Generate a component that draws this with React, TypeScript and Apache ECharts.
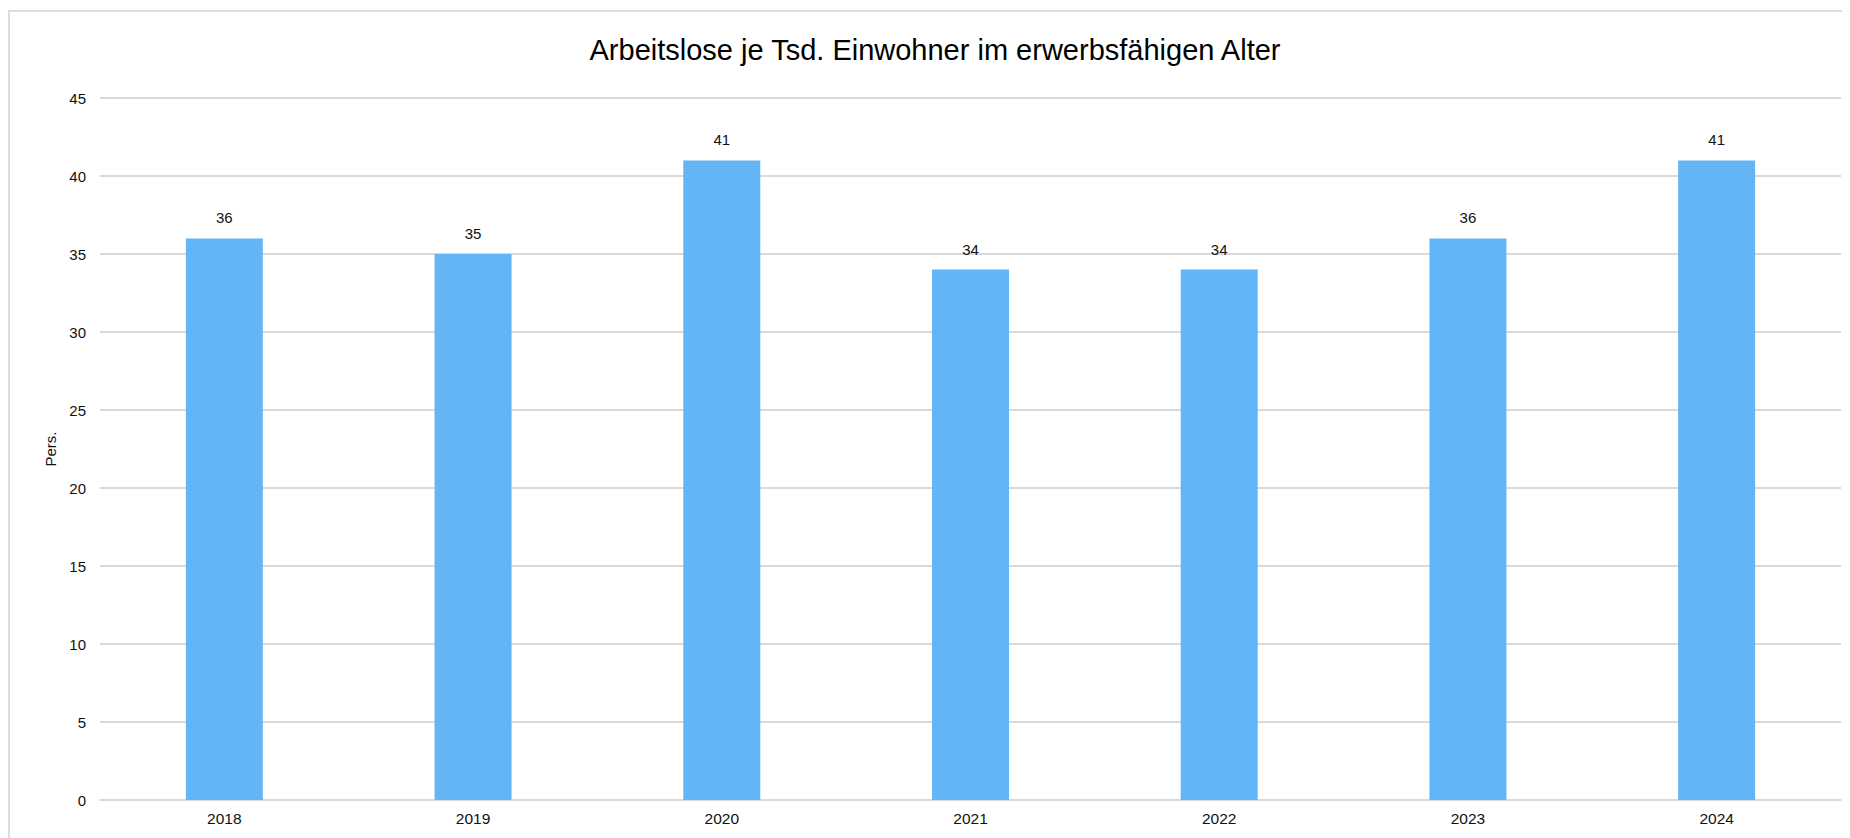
import React, { useEffect, useRef } from "react";
import * as echarts from "echarts";

const chartTitle = "Arbeitslose je Tsd. Einwohner im erwerbsfähigen Alter";
const yAxisName = "Pers.";
const categories = ["2018", "2019", "2020", "2021", "2022", "2023", "2024"];
const values = [36, 35, 41, 34, 34, 36, 41];
const yMin = 0;
const yMax = 45;
const yInterval = 5;

const FONT = "'Liberation Sans', Arial, sans-serif";

export default function App() {
  const ref = useRef<HTMLDivElement>(null);
  useEffect(() => {
    if (!ref.current) return;
    const chart = echarts.init(ref.current, undefined, { renderer: "svg" });
    chart.setOption({
      animation: false,
      title: {
        text: chartTitle,
        left: "center",
        top: 18,
        textStyle: { fontFamily: FONT, fontSize: 29, fontWeight: "normal", color: "#000" },
      },
      grid: { left: 90, right: 19, top: 86, bottom: 50, containLabel: false },
      xAxis: {
        type: "category",
        data: categories,
        axisLine: { show: true, lineStyle: { color: "#d9d9d9", width: 2 } },
        axisTick: { show: false },
        axisLabel: { fontFamily: FONT, fontSize: 15.5, color: "#111", margin: 10 },
      },
      yAxis: {
        type: "value",
        min: yMin,
        max: yMax,
        interval: yInterval,
        name: yAxisName,
        nameLocation: "middle",
        nameGap: 41,
        nameRotate: 90,
        nameTextStyle: { fontFamily: FONT, fontSize: 15, color: "#111" },
        axisLine: { show: false },
        axisTick: { show: false },
        axisLabel: { fontFamily: FONT, fontSize: 15, color: "#111", margin: 14 },
        splitLine: { lineStyle: { color: "#d9d9d9", width: 2 } },
      },
      series: [
        {
          type: "bar",
          data: values,
          barWidth: 77,
          itemStyle: { color: "#64B5F6" },
          label: {
            show: true,
            position: "top",
            distance: 13,
            fontFamily: FONT,
            fontSize: 15,
            color: "#111",
          },
        },
      ],
    });
    return () => chart.dispose();
  }, []);
  return (
    <div style={{ marginTop: 2, border: "2px solid #dddddd", width: 1850, height: 838 }}>
      <div ref={ref} style={{ width: 1850, height: 838 }} />
    </div>
  );
}
